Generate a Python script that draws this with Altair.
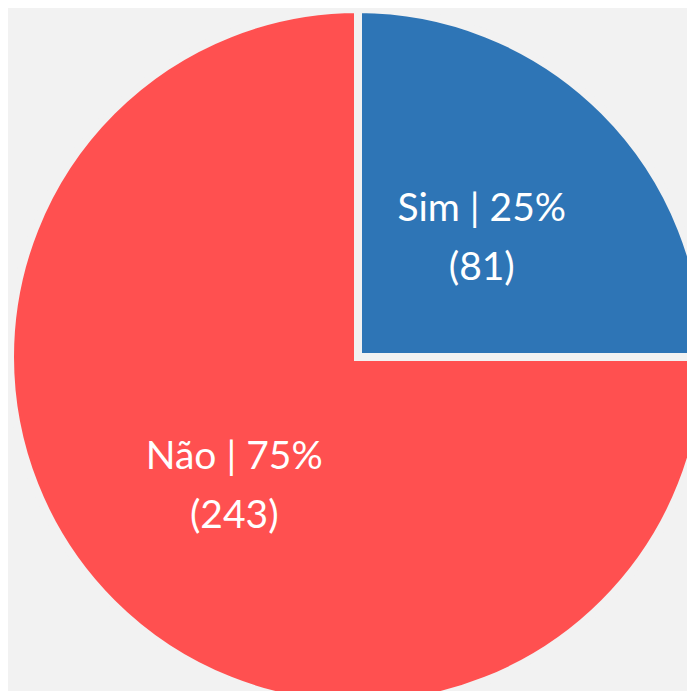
import altair as alt
import pandas as pd

categories = ["Sim", "Não"]
counts = [81, 243]
colors = ["#2e75b6", "#ff5050"]

total = sum(counts)
labels = [f"{c} | {round(100 * n / total)}%\n({n})" for c, n in zip(categories, counts)]

df = pd.DataFrame({
    "cat": categories,
    "count": counts,
    "order": list(range(len(categories))),
    "label": labels,
})

base = alt.Chart(df).encode(
    theta=alt.Theta("count:Q", stack=True),
    order=alt.Order("order:Q"),
)

arcs = base.mark_arc(outerRadius=348, stroke="#f2f2f2", strokeWidth=8).encode(
    color=alt.Color("cat:N", scale=alt.Scale(domain=categories, range=colors), legend=None),
    x=alt.value(350),
    y=alt.value(349),
)

text = base.mark_text(
    radius=175, fontSize=39, font="Lato", color="white",
    lineBreak="\n", lineHeight=59, align="center", baseline="middle", dy=-24,
).encode(
    text="label:N",
    x=alt.value(350),
    y=alt.value(349),
)

chart = (arcs + text).properties(
    width=679, height=683, padding=0, autosize="none", background="#f2f2f2"
).configure_view(stroke=None)

chart.save("out.html", embed_options={"renderer": "svg", "actions": False})
